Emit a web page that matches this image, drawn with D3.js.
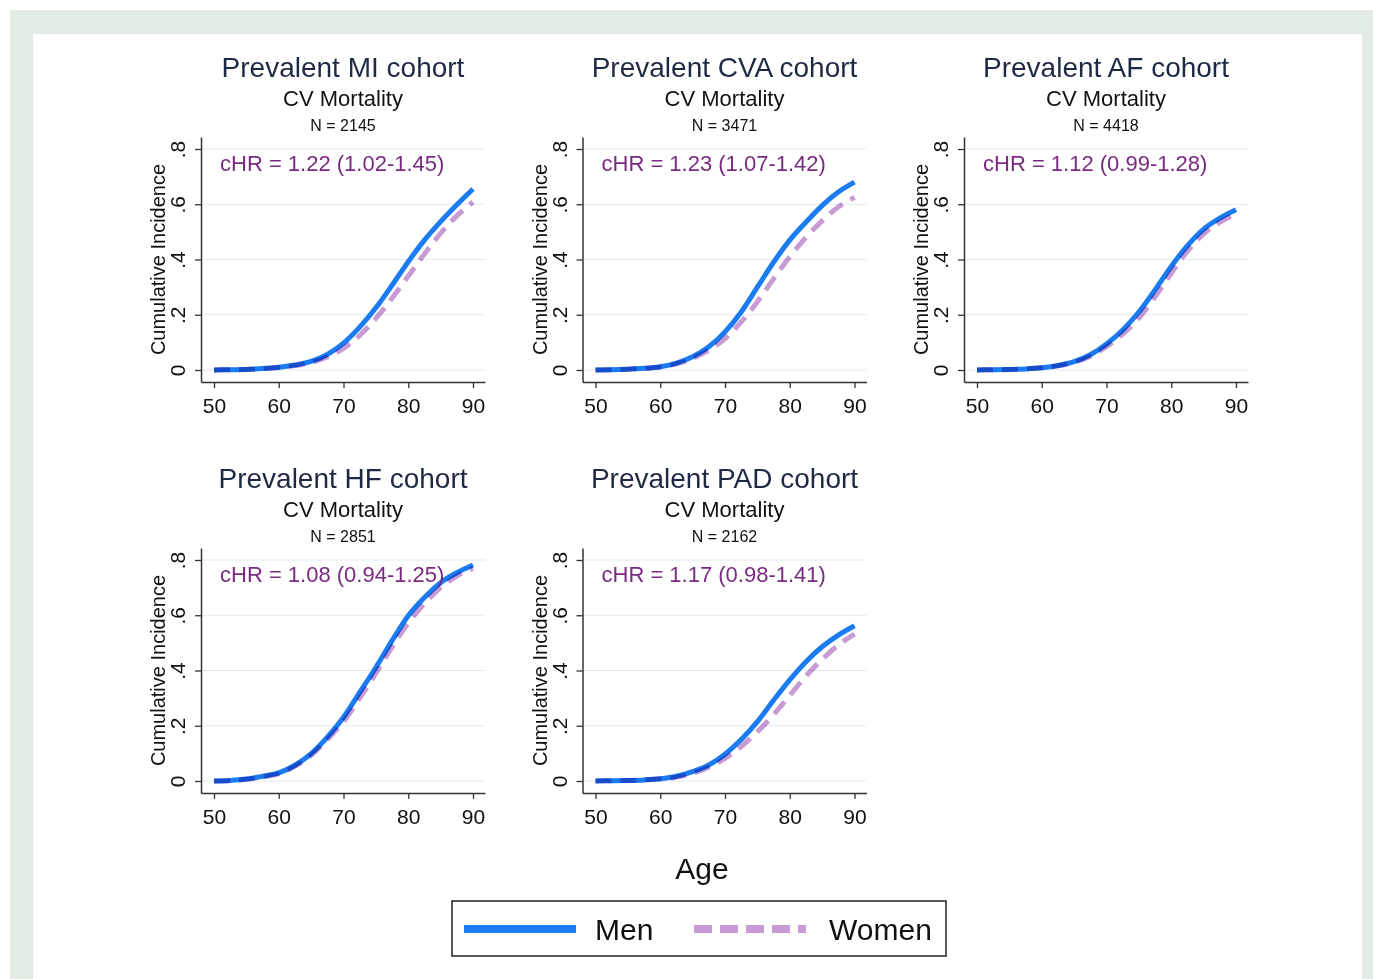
<!DOCTYPE html>
<html>
<head>
<meta charset="utf-8">
<script src="https://cdn.jsdelivr.net/npm/d3@7"></script>
<style>
  html, body { margin: 0; padding: 0; background: #ffffff; }
  svg { display: block; font-family: "Liberation Sans", Arial, sans-serif; }
</style>
</head>
<body>
<svg id="chart" width="1373" height="979"></svg>
<script>
// ---------------- data ----------------
const ages = [50, 52.5, 55, 57.5, 60, 62.5, 65, 67.5, 70, 72.5, 75, 77.5, 80, 82.5, 85, 87.5, 90];
const cohortTitles = ["Prevalent MI cohort", "Prevalent CVA cohort", "Prevalent AF cohort", "Prevalent HF cohort", "Prevalent PAD cohort"];
const outcomeLabels = ["CV Mortality", "CV Mortality", "CV Mortality", "CV Mortality", "CV Mortality"];
const sampleSizes = ["N = 2145", "N = 3471", "N = 4418", "N = 2851", "N = 2162"];
const hrLabels = ["cHR = 1.22 (1.02-1.45)", "cHR = 1.23 (1.07-1.42)", "cHR = 1.12 (0.99-1.28)", "cHR = 1.08 (0.94-1.25)", "cHR = 1.17 (0.98-1.41)"];

const miMen    = [0, 0.001, 0.002, 0.005, 0.010, 0.018, 0.031, 0.056, 0.097, 0.155, 0.225, 0.307, 0.392, 0.470, 0.537, 0.598, 0.655];
const miWomen  = [0, 0.001, 0.002, 0.005, 0.009, 0.016, 0.027, 0.047, 0.078, 0.125, 0.187, 0.260, 0.340, 0.420, 0.495, 0.558, 0.608];
const cvaMen   = [0, 0.001, 0.003, 0.006, 0.012, 0.025, 0.048, 0.084, 0.138, 0.210, 0.300, 0.390, 0.470, 0.535, 0.595, 0.644, 0.680];
const cvaWomen = [0, 0.001, 0.003, 0.006, 0.011, 0.022, 0.042, 0.072, 0.114, 0.174, 0.247, 0.330, 0.410, 0.480, 0.540, 0.590, 0.625];
const afMen    = [0, 0.001, 0.002, 0.004, 0.008, 0.016, 0.030, 0.055, 0.094, 0.145, 0.210, 0.290, 0.375, 0.450, 0.510, 0.550, 0.580];
const afWomen  = [0, 0.001, 0.002, 0.004, 0.008, 0.015, 0.028, 0.050, 0.085, 0.130, 0.188, 0.265, 0.350, 0.430, 0.493, 0.535, 0.565];
const hfMen    = [0, 0.002, 0.007, 0.017, 0.029, 0.057, 0.099, 0.159, 0.231, 0.321, 0.411, 0.508, 0.598, 0.664, 0.718, 0.754, 0.782];
const hfWomen  = [0, 0.002, 0.006, 0.015, 0.027, 0.053, 0.093, 0.150, 0.215, 0.300, 0.390, 0.485, 0.572, 0.642, 0.700, 0.742, 0.770];
const padMen   = [0, 0.001, 0.002, 0.004, 0.008, 0.017, 0.034, 0.058, 0.097, 0.150, 0.215, 0.292, 0.366, 0.432, 0.486, 0.528, 0.562];
const padWomen = [0, 0.001, 0.002, 0.004, 0.008, 0.014, 0.028, 0.050, 0.082, 0.125, 0.178, 0.240, 0.310, 0.380, 0.440, 0.492, 0.532];

const xTicks = [50, 60, 70, 80, 90];
const yTicks = [0, 0.2, 0.4, 0.6, 0.8];
const yTickLabels = ["0", ".2", ".4", ".6", ".8"];
const xAxisTitle = "Age";
const yAxisTitle = "Cumulative Incidence";
const seriesNames = ["Men", "Women"];

const menSeries = [miMen, cvaMen, afMen, hfMen, padMen];
const womenSeries = [miWomen, cvaWomen, afWomen, hfWomen, padWomen];

// ---------------- style ----------------
const menColor = "#1b7cf2";
const womenColor = "#c99bd4";
const hrColor = "#7a2a82";
const titleColor = "#1e2a44";
const axisColor = "#333333";
const gridColor = "#e3eaee";

const svg = d3.select("#chart");

// page frame
svg.append("rect").attr("x", 10).attr("y", 10).attr("width", 1363).attr("height", 969).attr("fill", "#e1ebe2");
svg.append("rect").attr("x", 33).attr("y", 34).attr("width", 1329).attr("height", 945).attr("fill", "#ffffff");

// panel geometry
const plotW = 284, plotH = 245;
const colX = [201, 582.5, 964];
const rowY = [137, 548];

// scales (local coordinates)
const xBase = d3.scaleLinear().domain([50, 90]).range([13, 272]);
const x = xBase.copy().domain([xBase.invert(0), xBase.invert(plotW)]).range([0, plotW]);
const yBase = d3.scaleLinear().domain([0, 0.8]).range([233, 12]);
const y = yBase.copy().domain([yBase.invert(plotH), yBase.invert(0)]).range([plotH, 0]);

const line = d3.line().x((d, i) => x(ages[i])).y(d => y(d)).curve(d3.curveMonotoneX);

cohortTitles.forEach((title, k) => {
  const col = k % 3, row = Math.floor(k / 3);
  const g = svg.append("g").attr("transform", `translate(${colX[col]},${rowY[row]})`);
  const cx = plotW / 2;

  // titles
  g.append("text").attr("x", cx).attr("y", -60).attr("text-anchor", "middle")
    .attr("font-size", 28).attr("fill", titleColor).text(title);
  g.append("text").attr("x", cx).attr("y", -31).attr("text-anchor", "middle")
    .attr("font-size", 22).attr("fill", "#111").text(outcomeLabels[k]);
  g.append("text").attr("x", cx).attr("y", -6).attr("text-anchor", "middle")
    .attr("font-size", 16).attr("fill", "#111").text(sampleSizes[k]);

  // grid
  g.append("g").selectAll("line").data(yTicks).join("line")
    .attr("x1", 0).attr("x2", plotW)
    .attr("y1", d => y(d)).attr("y2", d => y(d))
    .attr("stroke", gridColor).attr("stroke-width", 1.2);

  // curves
  g.append("path").datum(menSeries[k]).attr("d", line)
    .attr("fill", "none").attr("stroke", menColor).attr("stroke-width", 5);
  g.append("path").datum(womenSeries[k]).attr("d", line)
    .attr("fill", "none").attr("stroke", womenColor).attr("stroke-width", 5)
    .attr("stroke-dasharray", "16,9").style("mix-blend-mode", "multiply");

  // y axis
  const ya = g.append("g").call(d3.axisLeft(y).tickValues(yTicks).tickSize(6).tickSizeOuter(0)
    .tickFormat((d, i) => yTickLabels[i]));
  ya.select(".domain").attr("stroke", axisColor).attr("stroke-width", 1.5);
  ya.selectAll(".tick line").attr("stroke", axisColor).attr("stroke-width", 1.3);
  ya.selectAll(".tick text").attr("x", 0).attr("dy", 0)
    .attr("transform", "translate(-16,0) rotate(-90)")
    .attr("text-anchor", "middle").attr("font-size", 21).attr("fill", "#111")
    .attr("font-family", "Liberation Sans, Arial, sans-serif");

  // x axis
  const xa = g.append("g").attr("transform", `translate(0,${plotH})`)
    .call(d3.axisBottom(x).tickValues(xTicks).tickSize(6).tickSizeOuter(0).tickPadding(10));
  xa.select(".domain").attr("stroke", axisColor).attr("stroke-width", 1.5);
  xa.selectAll(".tick line").attr("stroke", axisColor).attr("stroke-width", 1.3);
  xa.selectAll(".tick text").attr("font-size", 21).attr("fill", "#111")
    .attr("font-family", "Liberation Sans, Arial, sans-serif");

  // y axis title
  g.append("text").attr("transform", `translate(-36,${plotH / 2}) rotate(-90)`)
    .attr("text-anchor", "middle").attr("font-size", 20).attr("fill", "#111").text(yAxisTitle);

  // hazard ratio
  g.append("text").attr("x", 19).attr("y", 34).attr("font-size", 22).attr("fill", hrColor).text(hrLabels[k]);
});

// overall x axis title
svg.append("text").attr("x", 702).attr("y", 879).attr("text-anchor", "middle")
  .attr("font-size", 30).attr("fill", "#111").text(xAxisTitle);

// legend
const lg = svg.append("g");
lg.append("rect").attr("x", 452).attr("y", 901).attr("width", 494).attr("height", 55)
  .attr("fill", "#fff").attr("stroke", "#222").attr("stroke-width", 1.5);
lg.append("line").attr("x1", 464).attr("x2", 576).attr("y1", 929).attr("y2", 929)
  .attr("stroke", menColor).attr("stroke-width", 8);
lg.append("text").attr("x", 595).attr("y", 940).attr("font-size", 30).attr("fill", "#111").text(seriesNames[0]);
lg.append("line").attr("x1", 694).attr("x2", 806).attr("y1", 929).attr("y2", 929)
  .attr("stroke", womenColor).attr("stroke-width", 8).attr("stroke-dasharray", "18,8");
lg.append("text").attr("x", 829).attr("y", 940).attr("font-size", 30).attr("fill", "#111").text(seriesNames[1]);
</script>
</body>
</html>
